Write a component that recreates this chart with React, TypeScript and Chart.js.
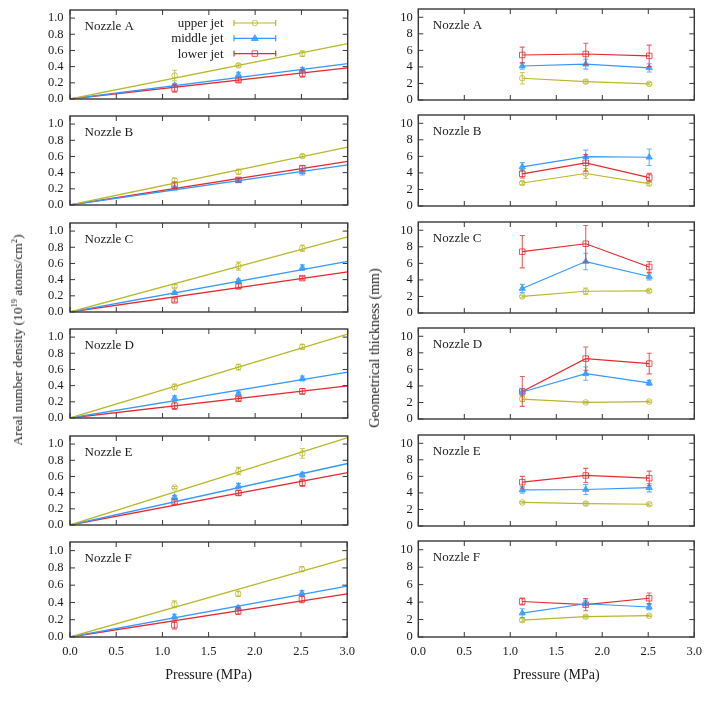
import React, { useEffect, useRef } from "react";
import { Chart, registerables } from "chart.js";

Chart.register(...registerables);

// ---------------- data ----------------
const nozzles = ["Nozzle A", "Nozzle B", "Nozzle C", "Nozzle D", "Nozzle E", "Nozzle F"];
const jetLabels = ["upper jet", "middle jet", "lower jet"];
const pressures = [1.13, 1.82, 2.51];
const xTickValues = [0, 0.5, 1.0, 1.5, 2.0, 2.5, 3.0];
const densityTickValues = [0, 0.2, 0.4, 0.6, 0.8, 1.0];
const thicknessTickValues = [0, 2, 4, 6, 8, 10];
const fitStart = [0, 0];
const fitEndX = 3.0;

// Areal number density (10^19 atoms/cm^2); rows = nozzles A..F, columns = pressures
const densityUpper = [
  [0.29, 0.415, 0.56],
  [0.305, 0.41, 0.604],
  [0.318, 0.567, 0.789],
  [0.385, 0.63, 0.88],
  [0.463, 0.667, 0.885],
  [0.378, 0.5, 0.785],
];
const densityUpperErr = [
  [0.065, 0.02, 0.035],
  [0.025, 0.03, 0.02],
  [0.02, 0.05, 0.04],
  [0.035, 0.035, 0.03],
  [0.012, 0.045, 0.06],
  [0.04, 0.03, 0.03],
];
const densityMiddle = [
  [0.17, 0.3, 0.36],
  [0.21, 0.3, 0.41],
  [0.237, 0.385, 0.548],
  [0.244, 0.3, 0.489],
  [0.344, 0.48, 0.622],
  [0.233, 0.337, 0.507],
];
const densityMiddleErr = [
  [0.02, 0.03, 0.03],
  [0.02, 0.02, 0.04],
  [0.02, 0.02, 0.035],
  [0.03, 0.02, 0.03],
  [0.02, 0.035, 0.03],
  [0.03, 0.02, 0.03],
];
const densityLower = [
  [0.13, 0.233, 0.315],
  [0.245, 0.31, 0.455],
  [0.144, 0.318, 0.419],
  [0.152, 0.237, 0.33],
  [0.285, 0.396, 0.522],
  [0.137, 0.3, 0.437],
];
const densityLowerErr = [
  [0.045, 0.025, 0.045],
  [0.04, 0.025, 0.03],
  [0.02, 0.03, 0.02],
  [0.045, 0.025, 0.035],
  [0.025, 0.03, 0.045],
  [0.045, 0.04, 0.04],
];
// linear fit values at 3.0 MPa (lines through origin)
const fitUpperEnd = [0.685, 0.715, 0.93, 1.037, 1.081, 0.911];
const fitMiddleEnd = [0.437, 0.496, 0.626, 0.567, 0.76, 0.589];
const fitLowerEnd = [0.385, 0.54, 0.496, 0.396, 0.648, 0.5];

// Geometrical thickness (mm)
const thickUpper = [
  [2.63, 2.22, 1.96],
  [2.78, 3.93, 2.7],
  [2.0, 2.63, 2.67],
  [2.41, 2.0, 2.11],
  [2.85, 2.7, 2.63],
  [1.93, 2.33, 2.44],
];
const thickUpperErr = [
  [0.7, 0.2, 0.15],
  [0.2, 0.6, 0.2],
  [0.15, 0.4, 0.15],
  [0.3, 0.1, 0.1],
  [0.1, 0.2, 0.15],
  [0.2, 0.15, 0.1],
];
const thickMiddle = [
  [4.11, 4.33, 3.89],
  [4.74, 5.96, 5.89],
  [2.96, 6.22, 4.41],
  [3.26, 5.48, 4.37],
  [4.37, 4.41, 4.63],
  [2.74, 3.81, 3.44],
];
const thickMiddleErr = [
  [0.4, 0.6, 0.5],
  [0.5, 0.8, 1.0],
  [0.5, 1.0, 0.4],
  [0.4, 0.8, 0.3],
  [0.4, 0.6, 0.5],
  [0.5, 0.4, 0.3],
];
const thickLower = [
  [5.44, 5.56, 5.33],
  [3.89, 5.22, 3.44],
  [7.41, 8.37, 5.56],
  [3.33, 7.3, 6.7],
  [5.3, 6.11, 5.78],
  [4.07, 3.7, 4.44],
];
const thickLowerErr = [
  [0.95, 1.3, 1.3],
  [0.5, 1.0, 0.5],
  [1.95, 2.2, 0.65],
  [1.8, 1.4, 1.25],
  [0.7, 0.85, 0.85],
  [0.4, 0.7, 0.6],
];

// ---------------- styles ----------------
const jetColors = ["#b8b82a", "#3399ff", "#e8282e"];
const jetMarkers = ["circle", "triangle", "rect"];
const jetMarkerRadius = [2.8, 3.6, 3.9];
const jetMarkerFilled = [false, true, false];
const FONT = "'Liberation Serif', 'DejaVu Serif', serif";
const TEXT = "#1a1a1a";
const FRAME = "#383838";

const PANEL_TOP0 = 6;
const PANEL_PITCH = 106.4;
const PANEL_H = 99.4;
const COLS = [
  { canvasX: 0, canvasW: 362, axisW: 70, padRight: 14.3 },
  { canvasX: 356, canvasW: 353, axisW: 62.3, padRight: 14.7 },
];

function alpha(hex: string, a: number) {
  const n = parseInt(hex.slice(1), 16);
  return `rgba(${(n >> 16) & 255},${(n >> 8) & 255},${n & 255},${a})`;
}

function drawMarker(ctx: CanvasRenderingContext2D, j: number, x: number, y: number) {
  const r = jetMarkerRadius[j];
  const c = jetColors[j];
  ctx.save();
  ctx.lineWidth = 1;
  ctx.strokeStyle = alpha(c, 0.8);
  ctx.fillStyle = alpha(c, 0.8);
  ctx.beginPath();
  if (jetMarkers[j] === "circle") {
    ctx.arc(x, y, r, 0, Math.PI * 2);
  } else if (jetMarkers[j] === "triangle") {
    ctx.moveTo(x, y - r);
    ctx.lineTo(x + r * 0.95, y + r * 0.6);
    ctx.lineTo(x - r * 0.95, y + r * 0.6);
    ctx.closePath();
  } else {
    const s = r * Math.SQRT1_2;
    ctx.rect(x - s, y - s, 2 * s, 2 * s);
  }
  if (jetMarkerFilled[j]) ctx.fill();
  ctx.stroke();
  ctx.restore();
}

const errorBarPlugin = {
  id: "errorBars",
  afterDatasetsDraw(chart: any) {
    const ctx: CanvasRenderingContext2D = chart.ctx;
    const xs = chart.scales.x;
    const ys = chart.scales.y;
    chart.data.datasets.forEach((ds: any) => {
      if (!ds.errors) return;
      ctx.save();
      ctx.strokeStyle = ds.errorColor;
      ctx.lineWidth = 1.1;
      ds.data.forEach((pt: any, k: number) => {
        const e = ds.errors[k];
        const px = xs.getPixelForValue(pt.x);
        const y1 = ys.getPixelForValue(pt.y - e);
        const y2 = ys.getPixelForValue(pt.y + e);
        ctx.beginPath();
        ctx.moveTo(px, y1);
        ctx.lineTo(px, y2);
        ctx.moveTo(px - 2.5, y1);
        ctx.lineTo(px + 2.5, y1);
        ctx.moveTo(px - 2.5, y2);
        ctx.lineTo(px + 2.5, y2);
        ctx.stroke();
      });
      ctx.restore();
    });
  },
};

function makeFramePlugin(label: string, yTicks: number[], withLegend: boolean) {
  return {
    id: "frame",
    afterDraw(chart: any) {
      const ctx: CanvasRenderingContext2D = chart.ctx;
      const { left, right, top, bottom } = chart.chartArea;
      const xs = chart.scales.x;
      const ys = chart.scales.y;
      ctx.save();
      ctx.strokeStyle = FRAME;
      ctx.lineWidth = 1;
      ctx.beginPath();
      xTickValues.forEach((v) => {
        const px = xs.getPixelForValue(v);
        ctx.moveTo(px, bottom);
        ctx.lineTo(px, bottom - 5);
        ctx.moveTo(px, top);
        ctx.lineTo(px, top + 5);
      });
      yTicks.forEach((v) => {
        const py = ys.getPixelForValue(v);
        ctx.moveTo(left, py);
        ctx.lineTo(left + 5, py);
        ctx.moveTo(right, py);
        ctx.lineTo(right - 5, py);
      });
      ctx.stroke();
      ctx.lineWidth = 1.4;
      ctx.strokeRect(left, top, right - left, bottom - top);

      ctx.fillStyle = TEXT;
      ctx.font = `13px ${FONT}`;
      ctx.textAlign = "left";
      ctx.textBaseline = "alphabetic";
      ctx.fillText(label, left + 14.5, top + 19.5);

      if (withLegend) {
        jetLabels.forEach((txt, j) => {
          const y = top + 13 + j * 15.3;
          ctx.fillStyle = TEXT;
          ctx.textAlign = "right";
          ctx.textBaseline = "middle";
          ctx.font = `13px ${FONT}`;
          ctx.fillText(txt, left + 153.5, y + 0.5);
          const x1 = left + 164;
          const x2 = left + 205.7;
          ctx.strokeStyle = jetColors[j];
          ctx.lineWidth = 1.2;
          ctx.beginPath();
          ctx.moveTo(x1, y);
          ctx.lineTo(x2, y);
          ctx.moveTo(x1, y - 3);
          ctx.lineTo(x1, y + 3);
          ctx.moveTo(x2, y - 3);
          ctx.lineTo(x2, y + 3);
          ctx.stroke();
          drawMarker(ctx, j, (x1 + x2) / 2, y);
        });
      }
      ctx.restore();
    },
  };
}

function buildConfig(col: number, row: number): any {
  const isLeft = col === 0;
  const isBottom = row === 5;
  const vals = isLeft
    ? [densityUpper[row], densityMiddle[row], densityLower[row]]
    : [thickUpper[row], thickMiddle[row], thickLower[row]];
  const errs = isLeft
    ? [densityUpperErr[row], densityMiddleErr[row], densityLowerErr[row]]
    : [thickUpperErr[row], thickMiddleErr[row], thickLowerErr[row]];
  const fits = [fitUpperEnd[row], fitMiddleEnd[row], fitLowerEnd[row]];
  const yTicks = isLeft ? densityTickValues : thicknessTickValues;
  const datasets: any[] = [];
  if (isLeft) {
    fits.forEach((f, j) => {
      datasets.push({
        label: jetLabels[j] + " fit",
        data: [
          { x: fitStart[0], y: fitStart[1] },
          { x: fitEndX, y: f },
        ],
        borderColor: jetColors[j],
        borderWidth: 1.3,
        pointRadius: 0,
        fill: false,
      });
    });
  }
  vals.forEach((v, j) => {
    datasets.push({
      label: jetLabels[j],
      data: pressures.map((p, k) => ({ x: p, y: v[k] })),
      errors: errs[j],
      errorColor: alpha(jetColors[j], 0.75),
      showLine: !isLeft,
      borderColor: jetColors[j],
      borderWidth: 1.2,
      pointStyle: jetMarkers[j],
      pointRadius: jetMarkerRadius[j],
      pointBorderWidth: 1,
      pointBorderColor: alpha(jetColors[j], 0.8),
      pointBackgroundColor: jetMarkerFilled[j] ? alpha(jetColors[j], 0.8) : "rgba(255,255,255,0)",
      fill: false,
    });
  });
  const c = COLS[col];
  return {
    type: "line",
    data: { datasets },
    options: {
      animation: false,
      responsive: false,
      events: [],
      layout: { padding: { top: 10, bottom: isBottom ? 0 : 8, left: 0, right: c.padRight } },
      plugins: { legend: { display: false }, tooltip: { enabled: false } },
      scales: {
        x: {
          type: "linear",
          min: 0,
          max: 3.0,
          display: isBottom,
          afterBuildTicks: (s: any) => {
            s.ticks = xTickValues.map((v) => ({ value: v }));
          },
          afterFit: (s: any) => {
            s.height = isBottom ? 48 : 0;
          },
          grid: { display: false, drawTicks: false },
          border: { display: false },
          ticks: {
            padding: 7,
            color: TEXT,
            font: { family: FONT, size: 12.5 },
            maxRotation: 0,
            autoSkip: false,
            callback: (v: number) => Number(v).toFixed(1),
          },
          title: {
            display: true,
            text: "Pressure (MPa)",
            color: TEXT,
            font: { family: FONT, size: 14 },
            padding: { top: 0, bottom: 1.6 },
          },
        },
        y: {
          type: "linear",
          min: 0,
          max: isLeft ? 1.1 : 11,
          afterBuildTicks: (s: any) => {
            s.ticks = yTicks.map((v) => ({ value: v }));
          },
          afterFit: (s: any) => {
            s.width = c.axisW;
          },
          grid: { display: false, drawTicks: false },
          border: { display: false },
          ticks: {
            padding: isLeft ? 6.5 : 5.5,
            color: TEXT,
            font: { family: FONT, size: 12.5 },
            autoSkip: false,
            callback: (v: number) => (isLeft ? Number(v).toFixed(1) : String(v)),
          },
        },
      },
    },
    plugins: [errorBarPlugin, makeFramePlugin(nozzles[row], yTicks, isLeft && row === 0)],
  };
}

function Panel({ col, row }: { col: number; row: number }) {
  const ref = useRef<HTMLCanvasElement>(null);
  const c = COLS[col];
  const isBottom = row === 5;
  const top = PANEL_TOP0 + row * PANEL_PITCH - 10;
  const h = Math.round(10 + PANEL_H + (isBottom ? 48 : 8));
  useEffect(() => {
    if (!ref.current) return;
    const chart = new Chart(ref.current, buildConfig(col, row));
    return () => chart.destroy();
  }, [col, row]);
  return (
    <canvas
      ref={ref}
      width={c.canvasW}
      height={h}
      style={{ position: "absolute", left: c.canvasX, top, width: c.canvasW, height: h }}
    />
  );
}

export default function App() {
  const panels: React.ReactNode[] = [];
  for (let col = 0; col < 2; col++) {
    for (let row = 0; row < 6; row++) {
      panels.push(<Panel key={`${col}-${row}`} col={col} row={row} />);
    }
  }
  const titleStyle: React.CSSProperties = {
    position: "absolute",
    transform: "translate(-50%, -50%) rotate(-90deg)",
    whiteSpace: "nowrap",
    fontFamily: FONT,
    fontSize: 14,
    color: TEXT,
    lineHeight: "16px",
  };
  const supStyle: React.CSSProperties = { fontSize: "0.62em", lineHeight: 0, verticalAlign: "0.55em" };
  return (
    <div
      style={{
        position: "absolute",
        left: 0,
        top: 0,
        width: 709,
        height: 709,
        background: "#ffffff",
        overflow: "hidden",
      }}
    >
      {panels}
      <div style={{ ...titleStyle, left: 17.5, top: 340, fontSize: 13.5 }}>
        Areal number density (10<span style={supStyle}>19</span> atoms/cm<span style={supStyle}>2</span>)
      </div>
      <div style={{ ...titleStyle, left: 375, top: 348 }}>Geometrical thickness (mm)</div>
    </div>
  );
}
